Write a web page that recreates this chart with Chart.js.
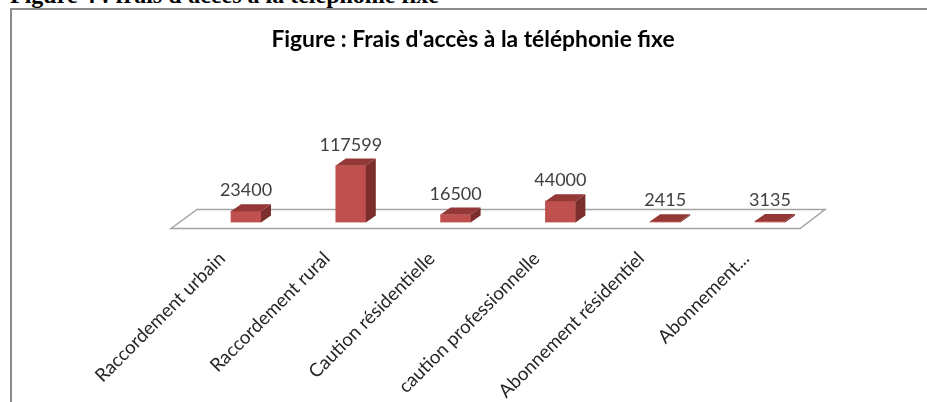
<!DOCTYPE html>
<html><head><meta charset="utf-8">
<style>
html,body{margin:0;padding:0;background:#fff;overflow:hidden}
#wrap{position:relative;width:927px;height:402px;overflow:hidden}
#cap{position:absolute;left:10px;top:-18px;font:bold 24px "Liberation Serif";color:#000;white-space:nowrap}
#frame{position:absolute;left:9.5px;top:7.5px;width:930px;height:420px;border:2px solid #8c8c8c;box-sizing:border-box}
canvas{position:absolute;left:0;top:0}
</style></head><body>
<div id="wrap"><div id="cap">Figure 4 : frais d'accès à la téléphonie fixe</div><div id="frame"></div>
<canvas id="c" width="927" height="402"></canvas></div>
<script src="https://cdn.jsdelivr.net/npm/chart.js@4"></script>
<script>
const categories=["Raccordement urbain","Raccordement rural","Caution résidentielle","caution professionnelle","Abonnement résidentiel","Abonnement..."];
const values=[23400,117599,16500,44000,2415,3135];
const titleText="Figure : Frais d'accès à la téléphonie fixe";
const depthX=10,depthY=7;
const bars3d={id:'bars3d',
 beforeDatasetsDraw(ch){
  const c=ch.ctx,a=ch.chartArea,b=a.bottom+6;
  c.save();c.strokeStyle='#a3a3a3';c.lineWidth=1.5;c.beginPath();
  c.moveTo(a.left-22.6,b);c.lineTo(a.left+3.4,b-19);c.lineTo(a.right+2.6,b-19);c.lineTo(a.right-22.4,b);c.closePath();c.stroke();
  c.restore();
  c.save();c.fillStyle='#000';c.font='bold 22.8px Lato';c.textAlign='center';c.textBaseline='alphabetic';
  c.fillText(titleText,473,47);c.restore();
 },
 afterDatasetsDraw(ch){
  const c=ch.ctx,m=ch.getDatasetMeta(0);
  c.save();
  m.data.forEach((el,i)=>{
   const l=el.x-el.width/2,r=el.x+el.width/2,t=el.y,bt=el.base;
   c.fillStyle='#7b2e2c';c.beginPath();c.moveTo(r,t);c.lineTo(r+depthX,t-depthY);c.lineTo(r+depthX,bt-depthY);c.lineTo(r,bt);c.closePath();c.fill();
   c.fillStyle='#933836';c.beginPath();c.moveTo(l,t);c.lineTo(l+depthX,t-depthY);c.lineTo(r+depthX,t-depthY);c.lineTo(r,t);c.closePath();c.fill();
   c.fillStyle='#404040';c.font='18px Lato';c.textAlign='center';c.textBaseline='alphabetic';
   c.fillText(String(values[i]),el.x,t-depthY-8);
  });
  c.restore();
 }};
new Chart(document.getElementById('c'),{type:'bar',
 data:{labels:categories,datasets:[{data:values,backgroundColor:'#c0504d',barThickness:30,borderWidth:0}]},
 plugins:[bars3d],
 options:{responsive:false,animation:false,
  layout:{padding:{left:193.6,right:104.6,top:53,bottom:0}},
  plugins:{legend:{display:false},tooltip:{enabled:false},title:{display:false}},
  scales:{
   y:{display:false,min:0,max:350000},
   x:{grid:{display:false},border:{display:false},
      afterFit(s){s.height=179.5;},
      ticks:{color:'#262626',font:{family:'Lato',size:18.7},minRotation:45,maxRotation:45,autoSkip:false,labelOffset:-24,padding:17}}}
 }});
</script></body></html>
